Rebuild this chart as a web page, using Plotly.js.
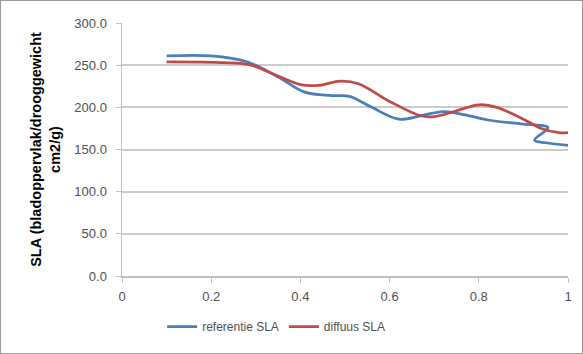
<!DOCTYPE html>
<html>
<head>
<meta charset="utf-8">
<script src="https://cdn.plot.ly/plotly-3.0.1.min.js"></script>
<style>
html,body{margin:0;padding:0;background:#fff;}
#chart{position:absolute;left:0;top:0;width:581px;height:352px;border:1px solid #9a9a9a;}
</style>
</head>
<body>
<div id="chart"></div>
<script>
// referentie SLA
var refX = [0.1, 0.2, 0.28, 0.35, 0.41, 0.47, 0.51, 0.56, 0.62, 0.67, 0.72, 0.77, 0.82, 0.9, 0.955, 0.925, 0.95, 1.0];
var refY = [261, 261, 254, 236, 218, 214, 213, 200, 186, 190, 195, 191, 185, 180, 176, 161, 158, 155];
// diffuus SLA
var difX = [0.1, 0.23, 0.29, 0.35, 0.4, 0.44, 0.49, 0.53, 0.6, 0.67, 0.7, 0.75, 0.8, 0.84, 0.9, 0.94, 0.98, 1.0];
var difY = [254, 253, 250, 237, 227, 226, 231, 228, 207, 190, 189, 196, 203, 200, 186, 175, 170, 170];

var seriesNames = ['referentie SLA', 'diffuus SLA'];
var yTitle = 'SLA (bladoppervlak/drooggewicht<br>cm2/g)';

var font = 'Liberation Sans, Arial, sans-serif';

var traces = [
  {x: refX, y: refY, name: seriesNames[0], mode: 'lines', type: 'scatter',
   line: {color: '#4A7EBB', width: 2.75, shape: 'spline', smoothing: 1}},
  {x: difX, y: difY, name: seriesNames[1], mode: 'lines', type: 'scatter',
   line: {color: '#BE4B48', width: 2.75, shape: 'spline', smoothing: 1}}
];

var layout = {
  width: 581, height: 352,
  margin: {l: 121, r: 14, t: 22, b: 77},
  paper_bgcolor: '#ffffff', plot_bgcolor: '#ffffff',
  font: {family: font, size: 12, color: '#505050'},
  showlegend: true,
  legend: {orientation: 'h', x: 0.09, xanchor: 'left', y: -0.2, yanchor: 'middle',
           font: {family: font, size: 12, color: '#505050'}, bgcolor: 'rgba(0,0,0,0)'},
  xaxis: {range: [0, 1], dtick: 0.2, tick0: 0, showgrid: false, zeroline: false,
          showline: true, linecolor: '#bfbfbf', linewidth: 1.5,
          ticks: 'outside', ticklen: 5, tickcolor: '#bfbfbf', ticklabelstandoff: 3,
          tickfont: {family: font, size: 13, color: '#505050'}},
  yaxis: {range: [0, 300], dtick: 50, tick0: 0, tickformat: '.1f',
          showgrid: true, gridcolor: '#cfcaca', gridwidth: 2, zeroline: false,
          showline: true, linecolor: '#bfbfbf', linewidth: 1.5,
          ticks: 'outside', ticklen: 5, tickcolor: '#bfbfbf', ticklabelstandoff: 6,
          tickfont: {family: font, size: 13, color: '#505050'},
          title: {text: yTitle, standoff: 10,
                  font: {family: font, size: 14.5, color: '#000000', weight: 'bold'}}}
};

Plotly.newPlot('chart', traces, layout, {displayModeBar: false, staticPlot: true});
</script>
</body>
</html>
